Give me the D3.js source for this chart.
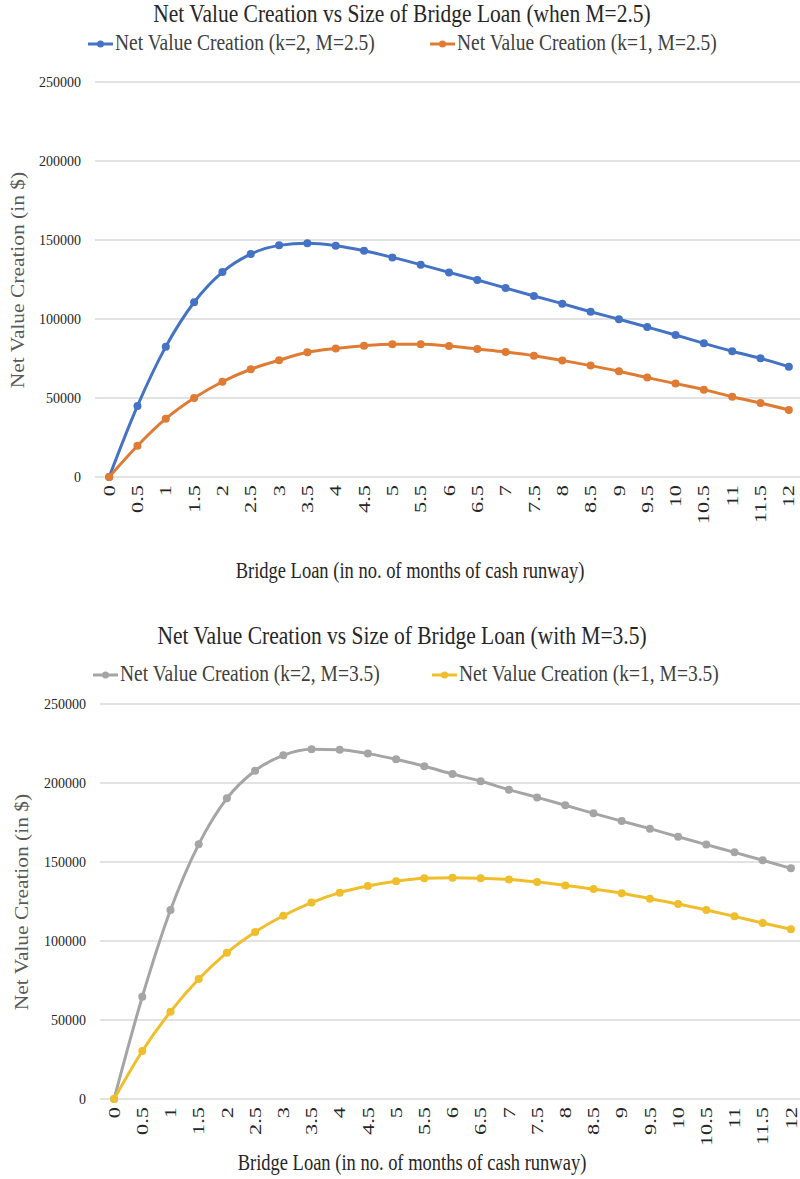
<!DOCTYPE html>
<html lang="en">
<head>
    <meta charset="utf-8">
    <script src="https://d3js.org/d3.v7.min.js"></script>
    <style>
        body { margin: 0; background: #fff; }
        svg text { font-family: "Liberation Serif", "Times New Roman", serif; }
    </style>
</head>
<body>
    <div id="chart"></div>
    <script>
        // x categories (months of cash runway)
        const loanMonths = ["0", "0.5", "1", "1.5", "2", "2.5", "3", "3.5", "4", "4.5", "5", "5.5", "6",
            "6.5", "7", "7.5", "8", "8.5", "9", "9.5", "10", "10.5", "11", "11.5", "12"];
        const yTicks = [0, 50000, 100000, 150000, 200000, 250000];

        // top chart, M=2.5
        const k2M25 = [0, 45000, 82500, 110600, 129700, 141100, 146600, 147900, 146400, 143200, 139000,
            134400, 129500, 124700, 119600, 114600, 109700, 104600, 99800, 94900, 89900, 84600, 79600, 75100, 69800];
        const k1M25 = [0, 19800, 36900, 50000, 60300, 68200, 73900, 78900, 81400, 83100, 84000,
            84000, 82900, 81000, 79100, 76800, 73800, 70500, 66900, 62900, 59100, 55300, 50800, 46800, 42400];

        // bottom chart, M=3.5
        const k2M35 = [0, 64700, 119600, 161200, 190300, 207800, 217500, 221300, 221100, 218600, 215000,
            210600, 205700, 201100, 195800, 190900, 185900, 180800, 175900, 171100, 166000, 161000, 156100, 151100, 146000];
        const k1M35 = [0, 30400, 55300, 75900, 92600, 105700, 116000, 124300, 130600, 134800, 137800,
            139700, 140100, 139700, 139000, 137300, 135200, 132900, 130200, 126800, 123400, 119600, 115600, 111400, 107400];

        const svg = d3.select("#chart").append("svg")
            .attr("width", 800)
            .attr("height", 1179);

        // the source picture is a bit stretched vertically, so text gets a small vertical scale
        function tallText(g, x, y, size, sy) {
            return g.append("text")
                .attr("transform", `translate(${x}, ${y}) scale(1, ${sy})`)
                .style("font-size", size + "px");
        }

        function drawChart(opts) {
            const g = svg.append("g");

            const x = d3.scaleBand().domain(loanMonths).range([opts.left, opts.left + opts.plotWidth]);
            const y = d3.scaleLinear().domain([0, 250000]).range([opts.plotBottom, opts.plotBottom - 395]);

            // title
            tallText(g, 402, opts.titleY, 21.5, 1.15)
                .attr("text-anchor", "middle")
                .attr("fill", "#262626")
                .text(opts.title);

            // legend
            opts.series.forEach(function (s, i) {
                const lx = opts.legendX[i];
                g.append("line")
                    .attr("x1", lx).attr("x2", lx + 25)
                    .attr("y1", opts.legendY).attr("y2", opts.legendY)
                    .attr("stroke", s.color).attr("stroke-width", 3);
                g.append("circle")
                    .attr("cx", lx + 12.5).attr("cy", opts.legendY).attr("r", 3.5)
                    .attr("fill", s.color);
                tallText(g, lx + 27, opts.legendY + 6, 19.5, 1.15)
                    .attr("fill", "#404040")
                    .text(s.name);
            });

            // gridlines
            g.selectAll(".grid").data(yTicks).join("line")
                .attr("class", "grid")
                .attr("x1", opts.left).attr("x2", 800)
                .attr("y1", d => y(d)).attr("y2", d => y(d))
                .attr("stroke", "#d9d9d9").attr("stroke-width", 1.5);

            // y axis labels
            const yAxis = g.append("g")
                .attr("transform", `translate(${opts.left - 14}, 0)`)
                .call(d3.axisLeft(y).tickValues(yTicks).tickSize(0).tickFormat(d3.format("d")));
            yAxis.select(".domain").remove();
            yAxis.selectAll("text")
                .style("font-size", "14px")
                .attr("fill", "#262626")
                .attr("x", 0);

            // x axis labels, rotated and stretched along their length
            const xAxis = g.append("g")
                .attr("transform", `translate(0, ${opts.plotBottom})`)
                .call(d3.axisBottom(x).tickSize(0));
            xAxis.select(".domain").remove();
            xAxis.selectAll("text")
                .attr("transform", "rotate(-90) scale(1.4, 1)")
                .style("text-anchor", "end")
                .style("font-size", "16px")
                .attr("fill", "#262626")
                .attr("x", -8 / 1.4)
                .attr("y", 0)
                .attr("dy", "0.35em");

            // axis titles
            tallText(g, opts.xTitleX, opts.plotBottom + opts.xTitleGap, 18.5, 1.2)
                .attr("text-anchor", "middle")
                .attr("fill", "#262626")
                .text("Bridge Loan (in no. of months of cash runway)");

            g.append("text")
                .attr("transform", `translate(${opts.yTitleX}, ${opts.plotBottom - 197}) rotate(-90) scale(1.1, 1)`)
                .attr("text-anchor", "middle")
                .style("font-size", "19.5px")
                .attr("fill", "#595959")
                .text("Net Value Creation  (in $)");

            // series lines and markers
            const line = d3.line()
                .x((d, i) => x(loanMonths[i]) + x.bandwidth() / 2)
                .y(d => y(d))
                .curve(d3.curveMonotoneX);

            opts.series.forEach(function (s) {
                g.append("path")
                    .datum(s.values)
                    .attr("d", line)
                    .attr("fill", "none")
                    .attr("stroke", s.color)
                    .attr("stroke-width", 3);
                g.selectAll(null).data(s.values).join("circle")
                    .attr("cx", (d, i) => x(loanMonths[i]) + x.bandwidth() / 2)
                    .attr("cy", d => y(d))
                    .attr("r", 4)
                    .attr("fill", s.color);
            });
        }

        drawChart({
            left: 95,
            plotWidth: 708,
            plotBottom: 477,
            titleY: 22,
            legendY: 44,
            legendX: [88, 430],
            yTitleX: 24,
            xTitleX: 410,
            xTitleGap: 101,
            title: "Net Value Creation vs Size of Bridge Loan (when M=2.5)",
            series: [
                { name: "Net Value Creation (k=2, M=2.5)", values: k2M25, color: "#4472C4" },
                { name: "Net Value Creation (k=1, M=2.5)", values: k1M25, color: "#E07B34" }
            ]
        });

        drawChart({
            left: 100,
            plotWidth: 705,
            plotBottom: 1099,
            titleY: 644,
            legendY: 675,
            legendX: [93, 432],
            yTitleX: 28,
            xTitleX: 412,
            xTitleGap: 71,
            title: "Net Value Creation vs Size of Bridge Loan (with M=3.5)",
            series: [
                { name: "Net Value Creation (k=2, M=3.5)", values: k2M35, color: "#A5A5A5" },
                { name: "Net Value Creation (k=1, M=3.5)", values: k1M35, color: "#F0BE2A" }
            ]
        });
    </script>
</body>
</html>
